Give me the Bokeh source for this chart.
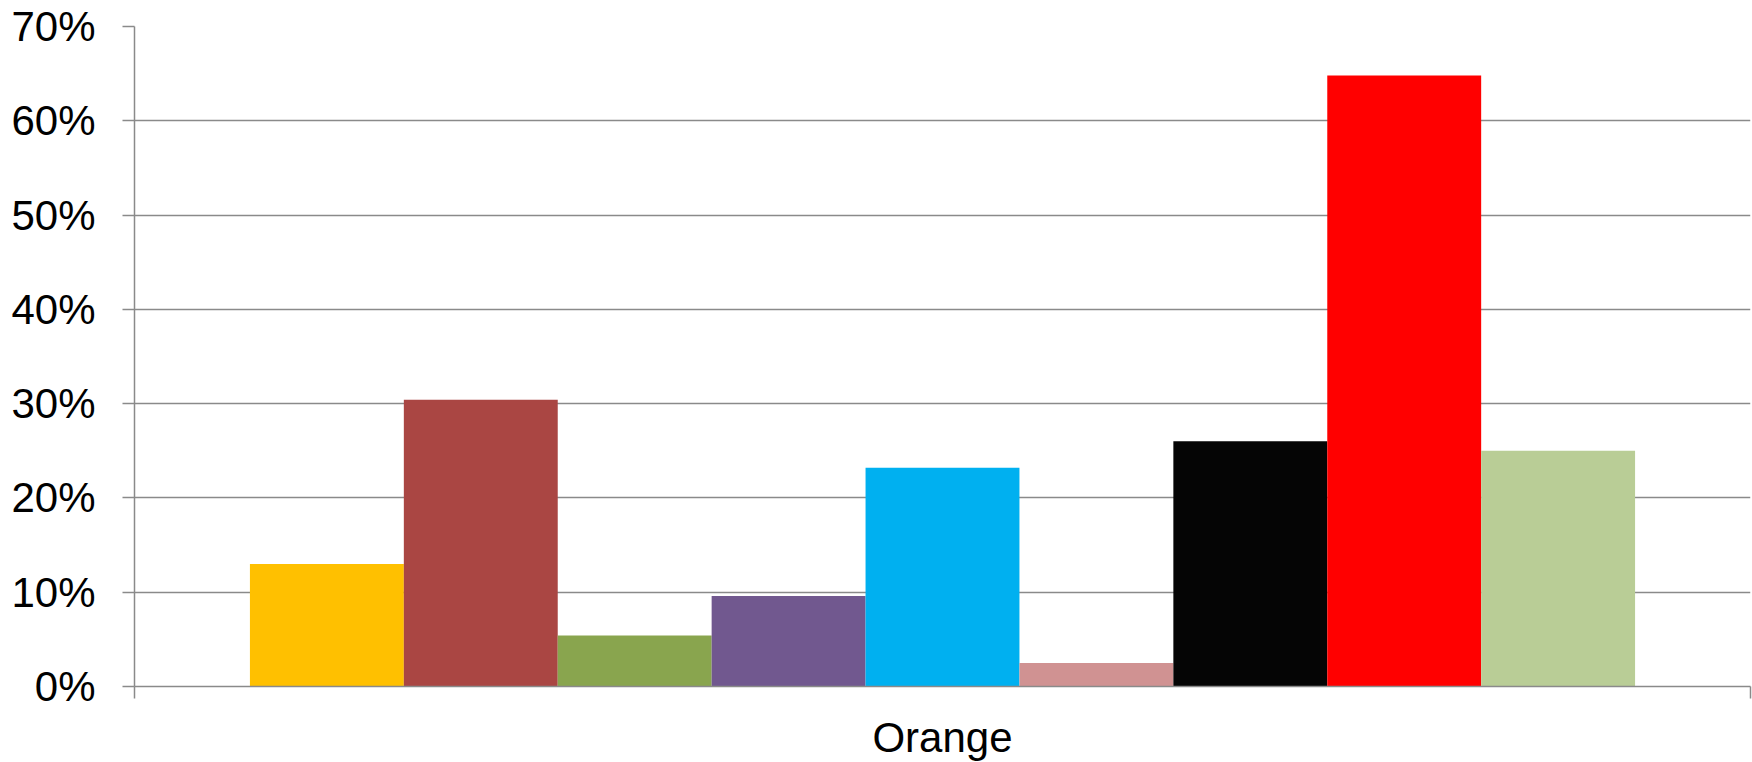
from bokeh.plotting import figure
from bokeh.models import Range1d, FixedTicker, NumeralTickFormatter
from bokeh.embed import file_html
from bokeh.resources import INLINE
import numpy as np

categories = ["Orange"]
series_names = ["S1", "S2", "S3", "S4", "S5", "S6", "S7", "S8", "S9"]
series_values = [0.130, 0.304, 0.054, 0.096, 0.232, 0.025, 0.260, 0.648, 0.250]
series_colors = ["#FFC000", "#AA4643", "#89A54E", "#71588F", "#00B0F0",
                 "#D09292", "#050505", "#FF0000", "#B9CD96"]
y_ticks = [0.0, 0.1, 0.2, 0.3, 0.4, 0.5, 0.6, 0.7]

FONT = "Liberation Sans"
FSIZE = "42px"
GRID = "#8a8a8a"

p = figure(frame_width=1616, frame_height=660, min_border_left=134,
           min_border_right=2, min_border_top=26, min_border_bottom=76,
           output_backend="svg", toolbar_location=None,
           x_range=Range1d(0, len(categories)), y_range=Range1d(0, 0.7))
p.outline_line_color = None
p.background_fill_color = "white"
p.border_fill_color = "white"

# bar layout: Excel style, 150% gap width
n = len(series_values)
bw = 1.0 / (n + 1.5)
idx = np.arange(n)
xs = 0.5 + (idx - (n - 1) / 2.0) * bw
p.vbar(x=xs, top=series_values, width=bw, bottom=0,
       fill_color=series_colors, line_color=None)

# y axis
p.yaxis.ticker = FixedTicker(ticks=y_ticks, minor_ticks=[])
p.yaxis.formatter = NumeralTickFormatter(format="0%")
p.yaxis.major_label_text_font = FONT
p.yaxis.major_label_text_font_size = FSIZE
p.yaxis.major_label_text_color = "black"
p.yaxis.major_label_standoff = 27
p.yaxis.major_tick_out = 12
p.yaxis.major_tick_in = 0
p.yaxis.minor_tick_line_color = None
p.yaxis.axis_line_color = GRID
p.yaxis.axis_line_width = 1.5
p.yaxis.major_tick_line_color = GRID
p.yaxis.major_tick_line_width = 1.5

# x axis: category name at centre, tick marks at category boundaries
centers = [i + 0.5 for i in range(len(categories))]
bounds = list(range(len(categories) + 1))
p.xaxis.ticker = FixedTicker(ticks=centers, minor_ticks=bounds)
p.xaxis.major_label_overrides = {c: name for c, name in zip(centers, categories)}
p.xaxis.major_label_text_font = FONT
p.xaxis.major_label_text_font_size = FSIZE
p.xaxis.major_label_text_color = "black"
p.xaxis.major_label_standoff = 15
p.xaxis.major_tick_line_color = None
p.xaxis.major_tick_out = 0
p.xaxis.major_tick_in = 0
p.xaxis.minor_tick_line_color = GRID
p.xaxis.minor_tick_line_width = 1.5
p.xaxis.minor_tick_out = 12
p.xaxis.minor_tick_in = 0
p.xaxis.axis_line_color = GRID
p.xaxis.axis_line_width = 1.5

p.xgrid.grid_line_color = None
p.ygrid.grid_line_color = GRID
p.ygrid.grid_line_width = 1.5
p.ygrid.ticker = FixedTicker(ticks=y_ticks)

open("out.html", "w").write(file_html(p, INLINE))
